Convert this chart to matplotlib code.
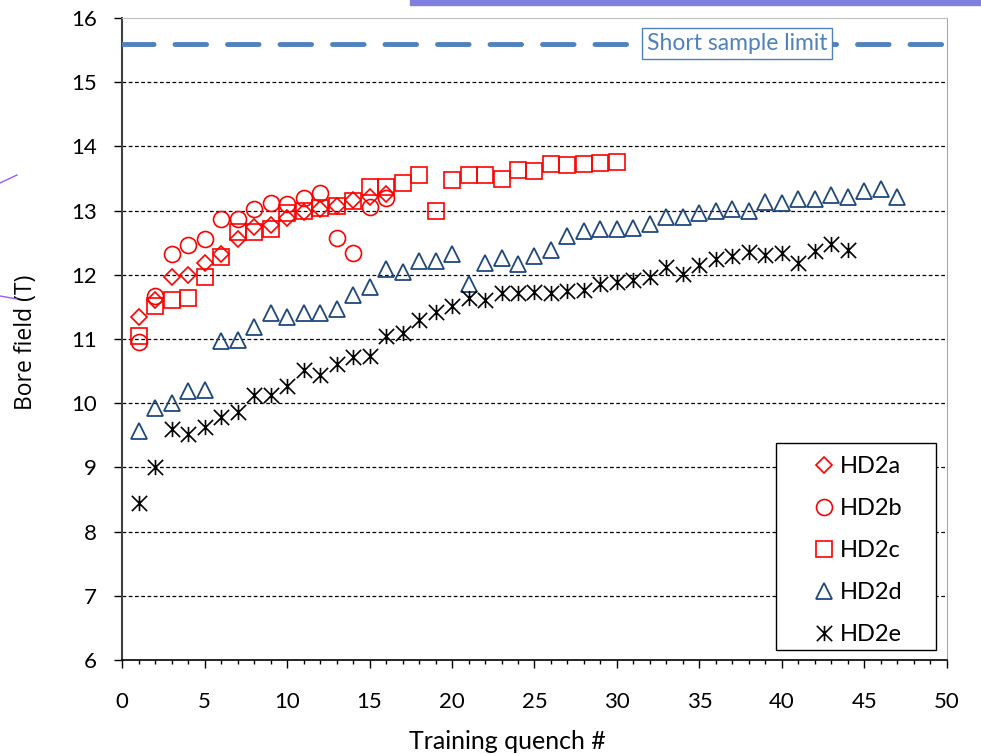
import matplotlib
matplotlib.use("Agg")
import matplotlib.pyplot as plt
from matplotlib.lines import Line2D
from matplotlib.patches import Rectangle
from matplotlib.path import Path
from matplotlib.ticker import MultipleLocator

# ─── data ──────────────────────────────────────────────
hd2a = [11.34, 11.60, 11.97, 12.00, 12.19, 12.32, 12.56, 12.74, 12.78, 12.88,
        12.98, 13.02, 13.07, 13.16, 13.21, 13.26]
hd2b = [10.95, 11.67, 12.32, 12.46, 12.56, 12.87, 12.87, 13.02, 13.12, 13.10,
        13.19, 13.27, 12.57, 12.34, 13.06, 13.20]
hd2c = [11.05, 11.51, 11.60, 11.64, 11.96, 12.28, 12.66, 12.67, 12.72, 12.96,
        12.99, 13.04, 13.07, 13.15, 13.36, 13.37, 13.43, 13.55, 13.00, 13.47,
        13.56, 13.55, 13.50, 13.63, 13.61, 13.73, 13.71, 13.72, 13.74, 13.76]
hd2d = [9.56, 9.93, 10.00, 10.19, 10.20, 10.97, 10.98, 11.18, 11.40, 11.34,
        11.41, 11.41, 11.46, 11.69, 11.81, 12.09, 12.05, 12.22, 12.22, 12.32,
        11.86, 12.19, 12.26, 12.17, 12.30, 12.38, 12.61, 12.68, 12.71, 12.71,
        12.73, 12.79, 12.90, 12.90, 12.97, 13.00, 13.02, 13.00, 13.13, 13.12,
        13.18, 13.18, 13.24, 13.21, 13.31, 13.34, 13.21]
hd2e = [8.45, 9.00, 9.60, 9.52, 9.63, 9.78, 9.87, 10.13, 10.13, 10.27,
        10.51, 10.44, 10.61, 10.72, 10.74, 11.05, 11.10, 11.30, 11.42, 11.51,
        11.64, 11.60, 11.72, 11.72, 11.73, 11.72, 11.75, 11.76, 11.86, 11.89,
        11.92, 11.96, 12.12, 12.01, 12.15, 12.24, 12.29, 12.35, 12.31, 12.34,
        12.19, 12.37, 12.48, 12.39]
short_sample_limit = 15.6
# ────────────────────────────────────────────────────────

RED = "#FF0000"
BLUE = "#1F497D"
LIMIT_BLUE = "#4F81BD"

plt.rcParams["font.family"] = ["Lato", "DejaVu Sans"]

# Excel style "star": an X with a vertical bar through it
STAR = Path([(-1, -1), (1, 1), (-1, 1), (1, -1), (0, -1), (0, 1)],
            [Path.MOVETO, Path.LINETO] * 3)

fig = plt.figure(figsize=(9.81, 7.54), dpi=100)
ax = fig.add_axes([0.1244, 0.1247, 0.8409, 0.8514])

def quench(vals):
    return list(range(1, len(vals) + 1))

ax.plot(quench(hd2a), hd2a, ls="none", marker="D", ms=8, mfc="none",
        mec=RED, mew=1.2, label="HD2a", zorder=5)
ax.plot(quench(hd2b), hd2b, ls="none", marker="o", ms=11.5, mfc="none",
        mec=RED, mew=1.2, label="HD2b", zorder=4)
ax.plot(quench(hd2c), hd2c, ls="none", marker="s", ms=11.5, mfc="none",
        mec=RED, mew=1.2, label="HD2c", zorder=4)
ax.plot(quench(hd2d), hd2d, ls="none", marker="^", ms=11.5, mfc="none",
        mec=BLUE, mew=1.3, label="HD2d", zorder=4)
ax.plot(quench(hd2e), hd2e, ls="none", marker=STAR, ms=11, mfc="none",
        mec="black", mew=1.2, label="HD2e", zorder=4)

ax.axhline(short_sample_limit, color=LIMIT_BLUE, lw=3.5, ls=(0, (6.5, 4.3)),
           dash_capstyle="round", zorder=3)
ax.text(37.27, short_sample_limit, "Short sample limit", color=LIMIT_BLUE,
        fontsize=16.5, ha="center", va="center", zorder=6,
        bbox=dict(boxstyle="square,pad=0.22", fc="white", ec=LIMIT_BLUE, lw=1))

ax.set_xlim(0, 50)
ax.set_ylim(6, 16)
ax.xaxis.set_major_locator(MultipleLocator(5))
ax.xaxis.set_minor_locator(MultipleLocator(1))
ax.yaxis.set_major_locator(MultipleLocator(1))

for y in range(7, 16):
    ax.axhline(y, color="black", lw=0.9, ls=(0, (3, 2)), zorder=1)

ax.tick_params(axis="x", which="major", direction="out", length=6,
               width=1, labelsize=16, pad=17)
ax.tick_params(axis="y", which="major", direction="out", length=6,
               width=1, labelsize=16, pad=12)
ax.tick_params(axis="x", which="minor", direction="out", length=3, width=1)
ax.tick_params(axis="y", which="minor", left=False)

ax.spines["left"].set_color("#404040")
ax.spines["left"].set_linewidth(1.5)
ax.spines["bottom"].set_color("black")
ax.spines["bottom"].set_linewidth(1.2)
ax.spines["top"].set_color("#BFBFBF")
ax.spines["right"].set_color("#A6A6A6")

ax.set_xlabel("Training quench #", fontsize=18)
ax.xaxis.set_label_coords(0.467, -0.109)
ax.set_ylabel("Bore field (T)", fontsize=16.5,
              family=["Open Sans", "DejaVu Sans"])
ax.yaxis.set_label_coords(-0.102, 0.495)

# legend box drawn separately so its size matches the reference
ax.add_patch(Rectangle((0.7927, 0.0156), 0.1939, 0.3224, transform=ax.transAxes,
                       fc="white", ec="black", lw=1.0, zorder=9))
leg = ax.legend(loc="upper left", bbox_to_anchor=(0.8364, 0.318),
                fontsize=17, frameon=False, handlelength=1.0,
                handletextpad=0.2, labelspacing=0.89, borderpad=0,
                borderaxespad=0, numpoints=1)
leg.set_zorder(10)

# slide decorations around the chart
fig.patches.append(Rectangle((410 / 981, 1 - 5 / 754), 571 / 981, 5 / 754,
                             transform=fig.transFigure, color="#8080E0"))
fig.lines.append(Line2D([0, 17 / 981], [1 - 183 / 754, 1 - 175 / 754],
                        transform=fig.transFigure, color="#9B59F5", lw=1))
fig.lines.append(Line2D([0, 17 / 981], [1 - 296 / 754, 1 - 299 / 754],
                        transform=fig.transFigure, color="#9B59F5", lw=1))

fig.savefig("out.png", dpi=100)
